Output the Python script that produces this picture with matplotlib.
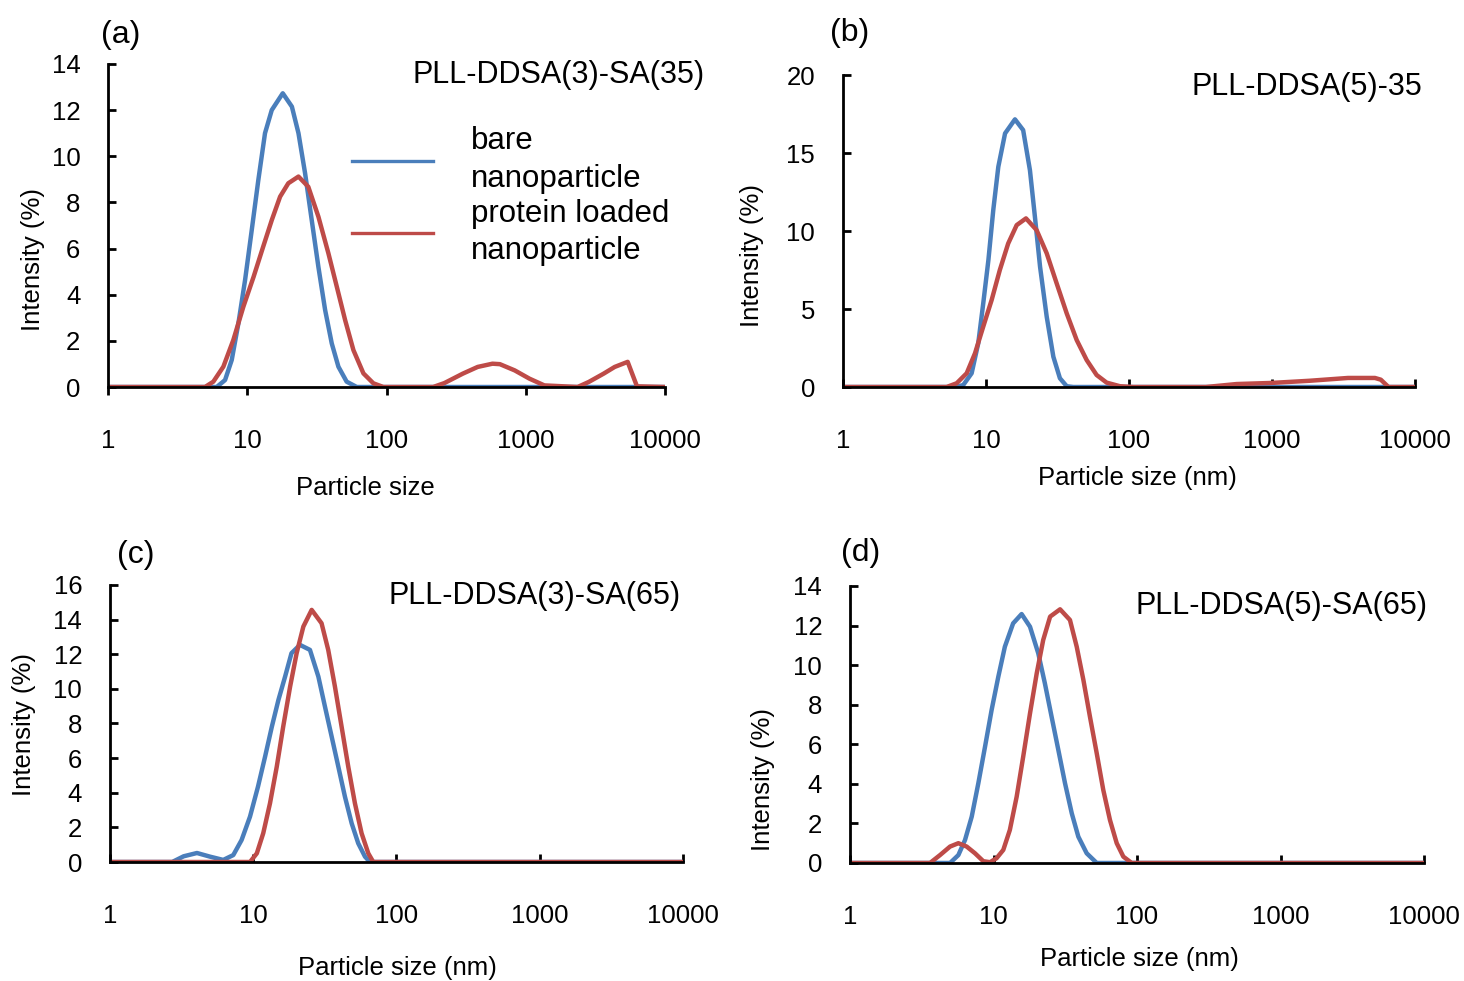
import matplotlib.pyplot as plt
from matplotlib.lines import Line2D
import numpy as np

plt.rcParams['font.family'] = ['Liberation Sans', 'DejaVu Sans']

BLUE = '#4A7EBB'
RED = '#BE4B48'

# (a) PLL-DDSA(3)-SA(35)
a_bare_x = [1, 5.5, 6.03, 6.92, 7.73, 8.63, 9.64, 10.76, 12.0, 13.4, 14.98, 17.97, 20.9, 23.3,
            26.0, 29.0, 32.4, 36.2, 40.4, 45.1, 51.7, 61.1, 10000]
a_bare_y = [0, 0, 0, 0.3, 1.17, 2.76, 4.64, 6.8, 8.97, 11.0, 12.0, 12.73, 12.15, 11.0,
            9.26, 7.24, 5.2, 3.34, 1.89, 0.88, 0.23, 0, 0]
a_prot_x = [1, 4.97, 5.7, 6.73, 7.94, 9.37, 11.1, 13.0, 15.0, 17.2, 19.7, 23.3, 27.4, 32.4, 38.2,
            43.9, 50.4, 57.8, 68.2, 80.4, 94.8, 216, 260, 353, 451, 576, 651, 832, 1063, 1358,
            2355, 2833, 3622, 4347, 5387, 6280, 10000]
a_prot_y = [0, 0, 0.23, 0.88, 2.04, 3.48, 4.78, 6.08, 7.24, 8.25, 8.83, 9.12, 8.68, 7.38, 5.8,
            4.35, 2.9, 1.6, 0.59, 0.16, 0, 0, 0.17, 0.58, 0.87, 1.01, 0.99, 0.72, 0.36, 0.07,
            0, 0.22, 0.58, 0.87, 1.09, 0.03, 0]

# (b) PLL-DDSA(5)-35
b_bare_x = [1, 6.2, 6.94, 7.94, 8.83, 9.57, 10.4, 11.25, 12.2, 13.6, 15.95, 18.2, 20.3, 22.0,
            23.9, 26.6, 29.6, 32.9, 36.7, 40.8, 10000]
b_bare_y = [0, 0, 0.13, 0.88, 2.8, 5.36, 8.14, 11.35, 14.12, 16.26, 17.16, 16.47, 13.9, 10.9,
            7.7, 4.5, 1.94, 0.56, 0.05, 0, 0]
b_prot_x = [1, 5.31, 6.24, 7.33, 8.38, 9.57, 10.96, 12.5, 14.3, 16.4, 19.05, 22.6, 26.6, 31.2,
            36.7, 43.1, 50.6, 59.4, 69.8, 86.5, 107, 345, 566, 988, 1834, 3404, 5250, 5770,
            6530, 10000]
b_prot_y = [0, 0, 0.24, 0.88, 2.16, 3.87, 5.58, 7.5, 9.2, 10.38, 10.81, 10.06, 8.57, 6.65,
            4.72, 3.01, 1.73, 0.77, 0.28, 0.05, 0, 0, 0.19, 0.26, 0.4, 0.58, 0.58, 0.47,
            0, 0]

# (c) PLL-DDSA(3)-SA(65)
c_bare_x = [1, 2.72, 3.27, 4.05, 4.99, 6.18, 7.26, 8.3, 9.5, 10.8, 12.1, 13.5, 15.0, 16.7,
            18.5, 21.2, 24.9, 28.5, 31.7, 35.3, 39.3, 43.7, 48.7, 54.1, 60.3, 65.3, 10000]
c_bare_y = [0, 0, 0.33, 0.52, 0.31, 0.12, 0.4, 1.27, 2.62, 4.35, 6.08, 7.82, 9.36, 10.71,
            12.06, 12.54, 12.25, 10.71, 8.97, 7.24, 5.5, 3.77, 2.23, 1.08, 0.31, 0, 0]
c_prot_x = [1, 9.5, 10.6, 11.75, 13.1, 14.6, 16.2, 18.1, 20.1, 22.4, 25.6, 30.0, 33.4, 37.2,
            41.4, 46.1, 51.3, 57.1, 63.6, 68.9, 10000]
c_prot_y = [0, 0, 0.5, 1.66, 3.39, 5.5, 7.82, 10.13, 12.06, 13.6, 14.56, 13.79, 12.25, 10.13,
            7.82, 5.5, 3.39, 1.66, 0.5, 0, 0]

# (d) PLL-DDSA(5)-SA(65)
d_bare_x = [1, 4.98, 5.69, 6.33, 7.05, 7.84, 8.73, 9.7, 10.8, 12.0, 13.7, 15.7, 17.96, 20.5,
            22.8, 25.4, 28.3, 31.5, 35.1, 39.0, 44.6, 52.4, 10000]
d_bare_y = [0, 0, 0.4, 1.16, 2.34, 4.03, 5.88, 7.73, 9.41, 10.93, 12.11, 12.58, 11.94, 10.6,
            9.08, 7.39, 5.71, 4.03, 2.51, 1.33, 0.49, 0, 0]
d_prot_x = [1, 3.61, 4.24, 4.98, 5.69, 6.5, 7.43, 8.49, 9.46, 10.5, 11.7, 13.0, 14.5, 16.1,
            17.96, 20.0, 22.2, 24.8, 29.1, 34.1, 38.0, 42.3, 47.0, 52.4, 58.2, 64.8, 72.2,
            80.3, 91.8, 10000]
d_prot_y = [0, 0, 0.4, 0.83, 1.0, 0.83, 0.49, 0.09, 0.04, 0.24, 0.66, 1.67, 3.35, 5.37,
            7.56, 9.58, 11.27, 12.45, 12.82, 12.28, 10.93, 9.25, 7.39, 5.54, 3.69, 2.17, 1.0,
            0.32, 0, 0]

panels = [
    dict(rect=[0.0738, 0.6055, 0.3805, 0.3293], bare=(a_bare_x, a_bare_y), prot=(a_prot_x, a_prot_y),
         ymax=14, ystep=2, xlabel='Particle size', title='PLL-DDSA(3)-SA(35)', tag='(a)', xdir='out',
         title_xy=(0.481, 0.9235), tag_xy=(0.069, 0.9643), xlab_xy=(0.2493, 0.5025), ylab_xy=(0.0225, 0.735)),
    dict(rect=[0.5758, 0.6055, 0.3907, 0.3180], bare=(b_bare_x, b_bare_y), prot=(b_prot_x, b_prot_y),
         ymax=20, ystep=5, xlabel='Particle size (nm)', title='PLL-DDSA(5)-35', tag='(b)', xdir='in',
         title_xy=(0.9713, 0.9113), tag_xy=(0.567, 0.9664), xlab_xy=(0.7766, 0.5127), ylab_xy=(0.5137, 0.740)),
    dict(rect=[0.0751, 0.1213, 0.3914, 0.2824], bare=(c_bare_x, c_bare_y), prot=(c_prot_x, c_prot_y),
         ymax=16, ystep=2, xlabel='Particle size (nm)', title='PLL-DDSA(3)-SA(65)', tag='(c)', xdir='in',
         title_xy=(0.4652, 0.3925), tag_xy=(0.0799, 0.4343), xlab_xy=(0.2712, 0.0133), ylab_xy=(0.0164, 0.261)),
    dict(rect=[0.5806, 0.1203, 0.3921, 0.2824], bare=(d_bare_x, d_bare_y), prot=(d_prot_x, d_prot_y),
         ymax=14, ystep=2, xlabel='Particle size (nm)', title='PLL-DDSA(5)-SA(65)', tag='(d)', xdir='in',
         title_xy=(0.9754, 0.3823), tag_xy=(0.5745, 0.4363), xlab_xy=(0.778, 0.0224), ylab_xy=(0.5212, 0.2049)),
]

fig = plt.figure(figsize=(14.64, 9.81), dpi=100)

for i, p in enumerate(panels):
    ax = fig.add_axes(p['rect'])
    ax.plot(*p['bare'], color=BLUE, lw=3.2, solid_joinstyle='round', solid_capstyle='round')
    ax.plot(*p['prot'], color=RED, lw=3.2, solid_joinstyle='round', solid_capstyle='round')
    ax.set_xscale('log')
    ax.set_xlim(1, 10000)
    ax.set_ylim(0, p['ymax'])
    ax.set_xticks([1, 10, 100, 1000, 10000])
    ax.set_xticklabels(['1', '10', '100', '1000', '10000'])
    ax.xaxis.set_minor_locator(plt.NullLocator())
    ax.set_yticks(np.arange(0, p['ymax'] + 1, p['ystep']))
    for s in ['top', 'right']:
        ax.spines[s].set_visible(False)
    for s in ['left', 'bottom']:
        ax.spines[s].set_linewidth(2.0)
    ax.tick_params(axis='y', direction='in', length=6, width=2.0, labelsize=18.5, pad=20)
    if p['xdir'] == 'out':
        ax.tick_params(axis='x', direction='out', length=6, width=2.0, labelsize=18.5, pad=24)
    else:
        ax.tick_params(axis='x', direction='in', length=6, width=2.0, labelsize=18.5, pad=30)
    fig.text(*p['xlab_xy'], p['xlabel'], fontsize=18.5, ha='center', va='center')
    fig.text(*p['ylab_xy'], 'Intensity (%)', fontsize=18.5, ha='center', va='center', rotation=90)
    fig.text(*p['title_xy'], p['title'], fontsize=22, ha='right', va='center')
    fig.text(*p['tag_xy'], p['tag'], fontsize=23, ha='left', va='center')

handles = [Line2D([], [], color=BLUE, lw=2.4), Line2D([], [], color=RED, lw=2.4)]
leg = fig.legend(handles, ['bare\nnanoparticle', 'protein loaded\nnanoparticle'],
                 loc='center left', bbox_to_anchor=(0.2404, 0.800), frameon=False, borderpad=0,
                 borderaxespad=0, fontsize=22.5, handlelength=2.6, handletextpad=1.2, labelspacing=0.15)
for t in leg.get_texts():
    t.set_linespacing(1.32)

fig.savefig('out.png', dpi=100)
